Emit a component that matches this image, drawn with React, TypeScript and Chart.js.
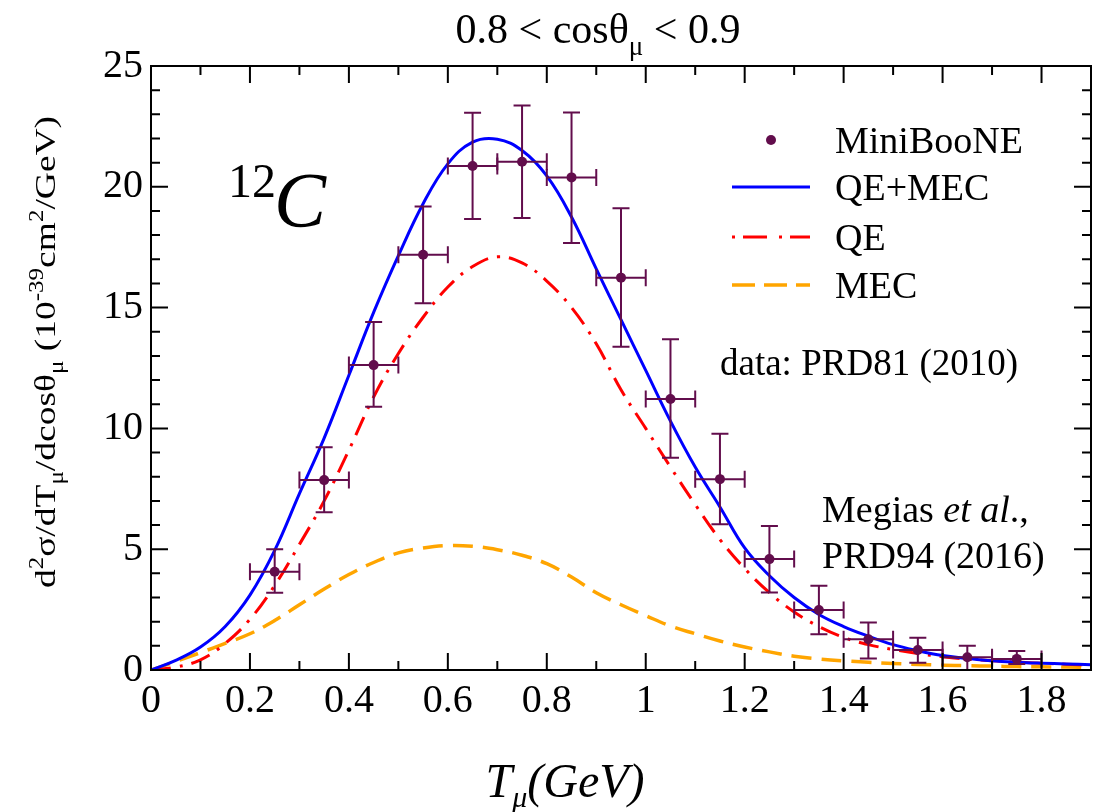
import React, { useEffect, useRef } from "react";
import { Chart, registerables } from "chart.js";

Chart.register(...registerables);

const SERIF = '"Liberation Serif", "Times New Roman", "DejaVu Serif", serif';
const PURPLE = "#620d4c";

// Theory curves (T_mu in GeV)
const curveT = [
  0, 0.05, 0.1, 0.15, 0.2, 0.25, 0.3, 0.35, 0.4, 0.45, 0.5, 0.55, 0.6, 0.65, 0.7, 0.75, 0.8, 0.85, 0.9,
  0.95, 1.0, 1.05, 1.1, 1.15, 1.2, 1.25, 1.3, 1.35, 1.4, 1.45, 1.5, 1.55, 1.6, 1.65, 1.7, 1.75, 1.8, 1.85, 1.9,
];
const qeMec = [
  0, 0.4, 0.95, 1.8, 3.1, 4.95, 7.3, 9.6, 12.2, 14.8, 17.15, 19.3, 20.95, 21.85, 21.97, 21.5, 20.45, 18.75, 16.6,
  14.5, 12.4, 10.3, 8.4, 6.75, 5.05, 3.9, 3.0, 2.3, 1.8, 1.4, 1.05, 0.8, 0.6, 0.48, 0.38, 0.32, 0.28, 0.25, 0.22,
];
const qe = [
  0, 0.12, 0.42, 1.1, 2.1, 3.5, 5.2, 7.0, 9.1, 11.3, 13.1, 14.6, 15.85, 16.7, 17.1, 16.85, 16.1, 15.0, 13.5,
  11.6, 10.0, 8.4, 6.85, 5.4, 4.2, 3.2, 2.4, 1.8, 1.35, 1.05, 0.85, 0.68, 0.55, 0.45, 0.38, 0.33, 0.28, 0.24, 0.2,
];
const mec = [
  0, 0.35, 0.72, 1.1, 1.5, 2.05, 2.7, 3.35, 3.95, 4.45, 4.85, 5.05, 5.15, 5.12, 4.98, 4.75, 4.4, 3.85, 3.2,
  2.7, 2.25, 1.82, 1.5, 1.2, 0.95, 0.75, 0.57, 0.46, 0.38, 0.32, 0.27, 0.23, 0.2, 0.18, 0.16, 0.14, 0.13, 0.12, 0.11,
];

// MiniBooNE data
const dataT = [0.25, 0.35, 0.45, 0.55, 0.65, 0.75, 0.85, 0.95, 1.05, 1.15, 1.25, 1.35, 1.45, 1.55, 1.65, 1.75];
const dataY = [4.07, 7.86, 12.62, 17.19, 20.86, 21.04, 20.39, 16.24, 11.22, 7.9, 4.59, 2.48, 1.27, 0.83, 0.53, 0.46];
const dataLo = [3.2, 6.53, 10.9, 15.18, 18.67, 18.71, 17.67, 13.38, 8.79, 6.03, 3.21, 1.48, 0.48, 0.3, 0.0, 0.25];
const dataHi = [5.0, 9.22, 14.4, 19.18, 23.07, 23.36, 23.08, 19.11, 13.69, 9.78, 5.96, 3.49, 1.97, 1.34, 1.0, 0.79];
const dataXErr = 0.05;

// Axes
const xTicks = [0, 0.2, 0.4, 0.6, 0.8, 1.0, 1.2, 1.4, 1.6, 1.8];
const xTickLabels = ["0", "0.2", "0.4", "0.6", "0.8", "1", "1.2", "1.4", "1.6", "1.8"];
const xMinor = [0.1, 0.3, 0.5, 0.7, 0.9, 1.1, 1.3, 1.5, 1.7, 1.9];
const yTicks = [0, 5, 10, 15, 20, 25];
const yTickLabels = ["0", "5", "10", "15", "20", "25"];
const yMinor = [1, 2, 3, 4, 6, 7, 8, 9, 11, 12, 13, 14, 16, 17, 18, 19, 21, 22, 23, 24];

type Seg = { t: string; size: number; italic?: boolean; dy?: number };
const segFont = (s: Seg) => `${s.italic ? "italic " : ""}${s.size}px ${SERIF}`;
function richWidth(ctx: CanvasRenderingContext2D, segs: Seg[]) {
  let w = 0;
  for (const s of segs) {
    ctx.font = segFont(s);
    w += ctx.measureText(s.t).width;
  }
  return w;
}
function drawRich(ctx: CanvasRenderingContext2D, segs: Seg[], x: number, y: number) {
  let cx = x;
  ctx.textAlign = "left";
  ctx.textBaseline = "alphabetic";
  for (const s of segs) {
    ctx.font = segFont(s);
    ctx.fillText(s.t, cx, y + (s.dy || 0));
    cx += ctx.measureText(s.t).width;
  }
}

const decor = {
  id: "decor",
  beforeDatasetDraw(chart: any, args: any) {
    if (args.index !== 0) return;
    const ctx: CanvasRenderingContext2D = chart.ctx;
    const xs = chart.scales.x;
    const ys = chart.scales.y;
    ctx.save();
    ctx.strokeStyle = PURPLE;
    ctx.lineWidth = 2;
    const cap = 8.5;
    dataT.forEach((t, i) => {
      const px = xs.getPixelForValue(t);
      const py = ys.getPixelForValue(dataY[i]);
      const pl = xs.getPixelForValue(t - dataXErr);
      const pr = xs.getPixelForValue(t + dataXErr);
      const pt = ys.getPixelForValue(dataHi[i]);
      const pb = ys.getPixelForValue(dataLo[i]);
      ctx.beginPath();
      ctx.moveTo(px, pt);
      ctx.lineTo(px, pb);
      ctx.moveTo(px - cap, pt);
      ctx.lineTo(px + cap, pt);
      ctx.moveTo(px - cap, pb);
      ctx.lineTo(px + cap, pb);
      ctx.moveTo(pl, py);
      ctx.lineTo(pr, py);
      ctx.moveTo(pl, py - cap);
      ctx.lineTo(pl, py + cap);
      ctx.moveTo(pr, py - cap);
      ctx.lineTo(pr, py + cap);
      ctx.stroke();
    });
    ctx.restore();
  },
  afterDraw(chart: any) {
    const ctx: CanvasRenderingContext2D = chart.ctx;
    const xs = chart.scales.x;
    const ys = chart.scales.y;
    const { left, right, top, bottom } = chart.chartArea;
    ctx.save();
    // frame
    ctx.strokeStyle = "#000";
    ctx.lineWidth = 2;
    ctx.strokeRect(left, top, right - left, bottom - top);
    // ticks
    ctx.beginPath();
    const tickX = (v: number, len: number) => {
      const p = xs.getPixelForValue(v);
      ctx.moveTo(p, bottom);
      ctx.lineTo(p, bottom - len);
      ctx.moveTo(p, top);
      ctx.lineTo(p, top + len);
    };
    const tickY = (v: number, len: number) => {
      const p = ys.getPixelForValue(v);
      ctx.moveTo(left, p);
      ctx.lineTo(left + len, p);
      ctx.moveTo(right, p);
      ctx.lineTo(right - len, p);
    };
    xTicks.forEach((v) => tickX(v, 17));
    xMinor.forEach((v) => tickX(v, 9));
    yTicks.forEach((v) => tickY(v, 17));
    yMinor.forEach((v) => tickY(v, 9));
    ctx.stroke();

    ctx.fillStyle = "#000";
    // title
    const titleSegs: Seg[] = [
      { t: "0.8 < cosθ", size: 42 },
      { t: "μ", size: 27, dy: 12 },
      { t: " < 0.9", size: 42 },
    ];
    const tw = richWidth(ctx, titleSegs);
    drawRich(ctx, titleSegs, 598 - tw / 2, 43);

    // x-axis title
    const xSegs: Seg[] = [
      { t: "T", size: 48, italic: true },
      { t: "μ", size: 30, italic: true, dy: 10 },
      { t: "(GeV)", size: 48, italic: true },
    ];
    const xw = richWidth(ctx, xSegs);
    drawRich(ctx, xSegs, 565 - xw / 2, 797);

    // y-axis title
    const ySegs: Seg[] = [
      { t: "d", size: 30 },
      { t: "2", size: 20, dy: -12 },
      { t: "σ/dT", size: 30 },
      { t: "μ", size: 20, dy: 8 },
      { t: "/dcosθ", size: 30 },
      { t: "μ", size: 20, dy: 8 },
      { t: " (10", size: 30 },
      { t: "-39", size: 20, dy: -12 },
      { t: "cm", size: 30 },
      { t: "2", size: 20, dy: -12 },
      { t: "/GeV)", size: 30 },
    ];
    ctx.save();
    ctx.translate(55, 352);
    ctx.rotate(-Math.PI / 2);
    ctx.scale(1.25, 1);
    const yw = richWidth(ctx, ySegs);
    drawRich(ctx, ySegs, -yw / 2, 0);
    ctx.restore();

    // 12C label
    drawRich(ctx, [{ t: "12", size: 48 }], 228, 197);
    drawRich(ctx, [{ t: "C", size: 78, italic: true }], 274, 226);

    // legend
    const lx0 = 732;
    const lx1 = 810;
    const tx = 835;
    const rows = [140, 187, 237, 285];
    ctx.fillStyle = PURPLE;
    ctx.beginPath();
    ctx.arc((lx0 + lx1) / 2, rows[0], 5, 0, Math.PI * 2);
    ctx.fill();
    const legLine = (y: number, color: string, dash: number[], w: number) => {
      ctx.save();
      ctx.strokeStyle = color;
      ctx.lineWidth = w;
      ctx.setLineDash(dash);
      ctx.beginPath();
      ctx.moveTo(lx0, y);
      ctx.lineTo(lx1, y);
      ctx.stroke();
      ctx.restore();
    };
    legLine(rows[1], "#0000ff", [], 3);
    legLine(rows[2], "#ff0000", [3, 8, 24, 12], 3);
    legLine(rows[3], "#ffa500", [23, 9], 3.5);
    ctx.fillStyle = "#000";
    const legLabels = ["MiniBooNE", "QE+MEC", "QE", "MEC"];
    legLabels.forEach((l, i) => drawRich(ctx, [{ t: l, size: 38 }], tx, rows[i] + 13));

    // annotations
    drawRich(ctx, [{ t: "data: PRD81 (2010)", size: 37 }], 720, 375);
    drawRich(
      ctx,
      [
        { t: "Megias ", size: 38 },
        { t: "et al", size: 38, italic: true },
        { t: ".,", size: 38 },
      ],
      822,
      522
    );
    drawRich(ctx, [{ t: "PRD94 (2016)", size: 38 }], 822, 568);
    ctx.restore();
  },
};

export default function App() {
  const ref = useRef<HTMLCanvasElement>(null);
  useEffect(() => {
    const canvas = ref.current!;
    const line = (d: number[]) => curveT.map((t, i) => ({ x: t, y: d[i] }));
    const chart = new Chart(canvas, {
      type: "scatter",
      data: {
        datasets: [
          {
            label: "MiniBooNE",
            data: dataT.map((t, i) => ({ x: t, y: dataY[i] })),
            pointRadius: 5,
            pointBackgroundColor: PURPLE,
            pointBorderWidth: 0,
            showLine: false,
          },
          {
            label: "QE+MEC",
            data: line(qeMec),
            showLine: true,
            borderColor: "#0000ff",
            borderWidth: 3,
            pointRadius: 0,
            tension: 0.4,
          },
          {
            label: "QE",
            data: line(qe),
            showLine: true,
            borderColor: "#ff0000",
            borderWidth: 3,
            borderDash: [20, 9, 3, 9],
            pointRadius: 0,
            tension: 0.4,
          },
          {
            label: "MEC",
            data: line(mec),
            showLine: true,
            borderColor: "#ffa500",
            borderWidth: 3.5,
            borderDash: [20, 10],
            pointRadius: 0,
            tension: 0.4,
          },
        ],
      } as any,
      options: {
        responsive: false,
        animation: false,
        events: [],
        layout: { padding: { top: 66, right: 1, left: 0, bottom: 0 } },
        plugins: { legend: { display: false }, title: { display: false }, tooltip: { enabled: false } },
        scales: {
          x: {
            type: "linear",
            min: 0,
            max: 1.9,
            grid: { display: false, drawTicks: false },
            border: { display: false },
            afterBuildTicks: (s: any) => {
              s.ticks = xTicks.map((v) => ({ value: v }));
            },
            afterFit: (s: any) => {
              s.height = 142;
            },
            ticks: {
              autoSkip: false,
              maxRotation: 0,
              minRotation: 0,
              padding: 7,
              color: "#000",
              font: { family: SERIF, size: 40 },
              callback: (_v: any, i: number) => xTickLabels[i],
            },
          },
          y: {
            type: "linear",
            min: 0,
            max: 25,
            grid: { display: false, drawTicks: false },
            border: { display: false },
            afterBuildTicks: (s: any) => {
              s.ticks = yTicks.map((v) => ({ value: v }));
            },
            afterFit: (s: any) => {
              s.width = 151;
            },
            ticks: {
              autoSkip: false,
              padding: 8,
              color: "#000",
              font: { family: SERIF, size: 40 },
              callback: (_v: any, i: number) => yTickLabels[i],
            },
          },
        },
      } as any,
      plugins: [decor],
    });
    return () => chart.destroy();
  }, []);
  return (
    <div style={{ position: "fixed", left: 0, top: 0, width: 1096, height: 812, background: "#fff" }}>
      <canvas ref={ref} width={1096} height={812} style={{ display: "block" }} />
    </div>
  );
}
